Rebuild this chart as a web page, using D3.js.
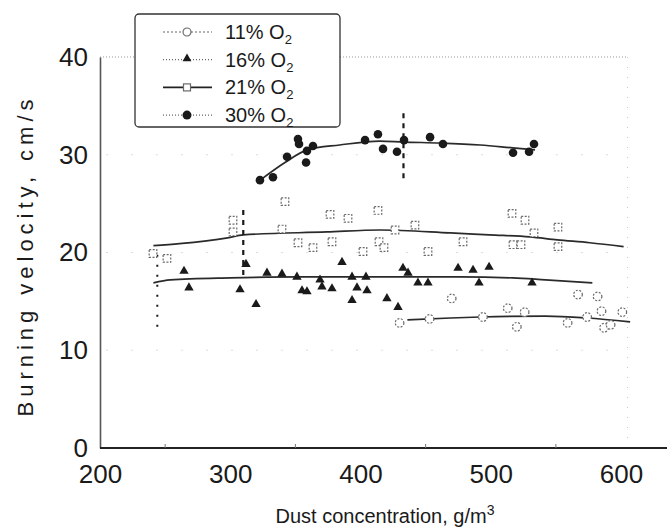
<html>
<head>
    <title>Burning velocity</title>
    <script src="https://cdn.jsdelivr.net/npm/d3@7"></script>
    <style>
        body { margin: 0; background: #fff; }
        svg { font-family: "Liberation Sans", Arial, sans-serif; }
    </style>
</head>
<body>
    <svg id="chart"></svg>
<script>
    //Global Variables
    const WIDTH = 667
    const HEIGHT = 532
    const INK = "#1a1a1a"
    const OPEN = "#6a6a6a"

    //-------------------------- Data --------------------------
    const xTicks = [200, 300, 400, 500, 600]
    const yTicks = [0, 10, 20, 30, 40]
    const legendLabels = ["11% O", "16% O", "21% O", "30% O"]

    // 11% O2 - open circles
    const o11Points = [[430,12.8],[453,13.2],[470,15.3],[494,13.4],[513,14.3],[520,12.4],[526,13.9],
        [559,12.8],[574,13.4],[567,15.7],[582,15.5],[585,14.0],[587,12.3],[592,12.6],[601,13.9]]
    const o11Fit = [[436,13.1],[469,13.3],[492,13.4],[542,13.5],[574,13.3],[607,12.9]]

    // 16% O2 - filled triangles
    const o16Points = [[264.5,18.1],[268.3,16.4],[307.5,16.2],[312.1,18.8],[319.8,14.7],[328.2,17.9],
        [339.7,17.8],[351.2,17.5],[355.1,16.1],[358.9,16.0],[368.9,17.2],[370.4,16.5],[378.1,16.3],
        [385.8,19.0],[393.5,17.5],[393.5,15.1],[397.3,16.4],[404.2,17.5],[405.0,16.1],[420.3,15.3],
        [428.8,14.4],[432.6,18.4],[436.5,17.9],[444.1,16.9],[451.8,16.9],[474.9,18.4],[486.4,18.2],
        [498.7,18.5],[491.0,16.9],[531.7,16.9]]
    const o16Fit = [[241,16.9],[254,17.2],[300,17.4],[354,17.5],[415,17.5],[476,17.5],[517,17.4],[542,17.2],[578,16.9]]

    // 21% O2 - open squares
    const o21Points = [[240.7,19.9],[251.4,19.4],[302.1,23.3],[302.1,22.1],[342,25.2],[339.7,22.4],
        [352,21.0],[363.5,20.5],[376.6,23.9],[378.1,21.1],[390.4,23.5],[413.4,24.3],[414.2,21.1],
        [418,20.5],[401.9,20.1],[426.5,22.3],[441.8,22.8],[451.8,20.1],[478.7,21.1],[516.3,24.0],
        [526.3,23.3],[533.2,22.0],[517.1,20.8],[523.2,20.8],[551.6,22.6],[551.6,20.6]]
    const o21Fit = [[241,20.7],[261,20.9],[298,21.5],[310,21.8],[374,22.1],[415,22.3],[469,22.0],
        [499,21.8],[530,21.6],[551,21.3],[576,21.0],[602,20.6]]

    // 30% O2 - filled circles
    const o30Points = [[322.8,27.4],[332.8,27.7],[343.6,29.8],[352.0,31.6],[352.8,31.1],[358.9,30.4],
        [363.5,30.9],[358.2,29.2],[403.5,31.5],[413.4,32.1],[417.3,30.6],[428.0,30.3],[433.4,31.5],
        [453.4,31.8],[463.3,31.1],[517.1,30.2],[529.4,30.3],[533.2,31.1]]
    const o30Fit = [[323,27.4],[342,29.2],[359,30.5],[384,31.0],[415,31.4],[433,31.3],[461,31.2],
        [492,31.0],[517,30.7],[534,30.5]]

    // vertical limit markers
    const limitX = [244, 310, 433]
    const limitLow = [12.4, 17.7, 27.6]
    const limitHigh = [19.9, 24.4, 34.3]

    //-------------------------- Scales --------------------------
    const xScale = d3.scaleLinear().domain([200, 600]).range([100, 621])
    const yScale = d3.scaleLinear().domain([0, 40]).range([448, 57])

    const svg = d3.select("#chart").attr("width", WIDTH).attr("height", HEIGHT)

    function drawFrame(){
        // faint dotted frame and grid
        svg.append("line")
            .attr("x1", xScale(200)).attr("x2", xScale(605))
            .attr("y1", yScale(40)).attr("y2", yScale(40))
            .attr("stroke", "#9a9a9a").attr("stroke-width", 1).attr("stroke-dasharray", "1,2")
        svg.append("line")
            .attr("x1", xScale(605)).attr("x2", xScale(605))
            .attr("y1", yScale(40)).attr("y2", yScale(0))
            .attr("stroke", "#c8c8c8").attr("stroke-width", 1).attr("stroke-dasharray", "1,9")
        svg.selectAll(".grid")
            .data([10, 20, 30])
            .enter().append("line")
            .attr("x1", xScale(205)).attr("x2", xScale(605))
            .attr("y1", d => yScale(d)).attr("y2", d => yScale(d))
            .attr("stroke", "#bdbdbd").attr("stroke-width", 1).attr("stroke-dasharray", "1,24")

        // axes
        const yAxis = d3.axisLeft(yScale).tickValues(yTicks).tickSize(0).tickPadding(12)
        const gy = svg.append("g").attr("transform", `translate(${xScale(200)},0)`).call(yAxis)
        gy.select(".domain").attr("stroke", "#555").attr("stroke-width", 1.6)
        gy.selectAll("text").attr("font-size", 26).attr("fill", INK)
            .attr("font-family", "Liberation Sans, Arial, sans-serif")

        const xAxis = d3.axisBottom(xScale).tickValues(xTicks).tickSize(0).tickPadding(17)
        const gx = svg.append("g").attr("transform", `translate(0,${yScale(0)})`).call(xAxis)
        gx.select(".domain").remove()
        gx.selectAll("text").attr("font-size", 26).attr("fill", INK)
            .attr("font-family", "Liberation Sans, Arial, sans-serif")
        svg.append("line")
            .attr("x1", xScale(200)).attr("x2", xScale(650))
            .attr("y1", yScale(0)).attr("y2", yScale(0))
            .attr("stroke", "#222").attr("stroke-width", 1.8)

        // small inner ticks
        svg.selectAll(".xminor")
            .data([250, 350, 450, 550])
            .enter().append("line")
            .attr("x1", d => xScale(d)).attr("x2", d => xScale(d))
            .attr("y1", yScale(0)).attr("y2", yScale(0) - 4)
            .attr("stroke", "#777")

        // axis titles
        svg.append("text")
            .attr("transform", `translate(33,258) rotate(-90)`)
            .attr("text-anchor", "middle")
            .attr("font-size", 22)
            .attr("fill", INK)
            .attr("textLength", 317)
            .attr("lengthAdjust", "spacing")
            .text("Burning velocity, cm/s")

        const xt = svg.append("text")
            .attr("x", 385).attr("y", 523)
            .attr("text-anchor", "middle")
            .attr("font-size", 20)
            .attr("fill", INK)
        xt.append("tspan").text("Dust concentration, g/m")
        xt.append("tspan").attr("dy", -8).attr("font-size", 14).text("3")
    }

    function drawCurves(){
        const line = d3.line()
            .x(d => xScale(d[0]))
            .y(d => yScale(d[1]))
            .curve(d3.curveMonotoneX)

        svg.selectAll(".fit")
            .data([o11Fit, o16Fit, o21Fit, o30Fit])
            .enter().append("path")
            .attr("fill", "none")
            .attr("stroke", "#2a2a2a")
            .attr("stroke-width", 1.7)
            .attr("d", line)

        // vertical limit markers
        svg.selectAll(".limit")
            .data(limitX)
            .enter().append("line")
            .attr("x1", d => xScale(d)).attr("x2", d => xScale(d))
            .attr("y1", (d, i) => yScale(limitLow[i]))
            .attr("y2", (d, i) => yScale(limitHigh[i]))
            .attr("stroke", INK)
            .attr("stroke-width", (d, i) => i === 0 ? 2 : 2.2)
            .attr("stroke-dasharray", (d, i) => i === 0 ? "2,8" : "5,5")
    }

    function drawMarkers(){
        const tri = d3.symbol().type(d3.symbolTriangle).size(38)

        svg.append("g").selectAll("circle")
            .data(o11Points)
            .enter().append("circle")
            .attr("cx", d => xScale(d[0])).attr("cy", d => yScale(d[1]))
            .attr("r", 4.3)
            .attr("fill", "#fff").attr("stroke", OPEN).attr("stroke-width", 1.2)
            .attr("stroke-dasharray", "2,1.5")

        svg.append("g").selectAll("rect")
            .data(o21Points)
            .enter().append("rect")
            .attr("x", d => xScale(d[0]) - 3.8).attr("y", d => yScale(d[1]) - 3.8)
            .attr("width", 7.6).attr("height", 7.6)
            .attr("fill", "#fff").attr("stroke", OPEN).attr("stroke-width", 1.2)
            .attr("stroke-dasharray", "2,1.5")

        svg.append("g").selectAll("path")
            .data(o16Points)
            .enter().append("path")
            .attr("transform", d => `translate(${xScale(d[0])},${yScale(d[1])})`)
            .attr("d", tri)
            .attr("fill", INK)

        svg.append("g").selectAll("circle")
            .data(o30Points)
            .enter().append("circle")
            .attr("cx", d => xScale(d[0])).attr("cy", d => yScale(d[1]))
            .attr("r", 4.3)
            .attr("fill", INK)
    }

    function drawLegend(){
        const g = svg.append("g")
        g.append("rect")
            .attr("x", 135).attr("y", 14).attr("width", 205).attr("height", 113)
            .attr("rx", 4)
            .attr("fill", "#fff").attr("stroke", "#333").attr("stroke-width", 1.3)

        const dashes = ["2,2", "1,2", null, "1,2"]
        const rows = g.selectAll(".row")
            .data(legendLabels)
            .enter().append("g")
            .attr("transform", (d, i) => `translate(0,${32 + i * 27.7})`)

        rows.append("line")
            .attr("x1", 163).attr("x2", 212).attr("y1", 0).attr("y2", 0)
            .attr("stroke", (d, i) => i === 2 ? "#222" : "#666")
            .attr("stroke-width", (d, i) => i === 2 ? 1.6 : 1.2)
            .attr("stroke-dasharray", (d, i) => dashes[i])

        rows.each(function(d, i){
            const r = d3.select(this)
            if(i === 0){
                r.append("circle").attr("cx", 187).attr("cy", 0).attr("r", 4)
                    .attr("fill", "#fff").attr("stroke", OPEN).attr("stroke-width", 1.2)
            } else if(i === 1){
                r.append("path").attr("transform", "translate(187,-1)")
                    .attr("d", d3.symbol().type(d3.symbolTriangle).size(34)).attr("fill", INK)
            } else if(i === 2){
                r.append("rect").attr("x", 183.5).attr("y", -3.5).attr("width", 7).attr("height", 7)
                    .attr("fill", "#fff").attr("stroke", OPEN).attr("stroke-width", 1.2)
            } else {
                r.append("circle").attr("cx", 187).attr("cy", 0).attr("r", 4.5).attr("fill", INK)
            }
        })

        const txt = rows.append("text")
            .attr("x", 225).attr("y", 7)
            .attr("font-size", 20)
            .attr("fill", INK)
        txt.append("tspan").text(d => d)
        txt.append("tspan").attr("dy", 5).attr("font-size", 13).text("2")
    }

    function main(){
        drawFrame()
        drawCurves()
        drawMarkers()
        drawLegend()
    }

    main()
</script>
</body>
</html>
